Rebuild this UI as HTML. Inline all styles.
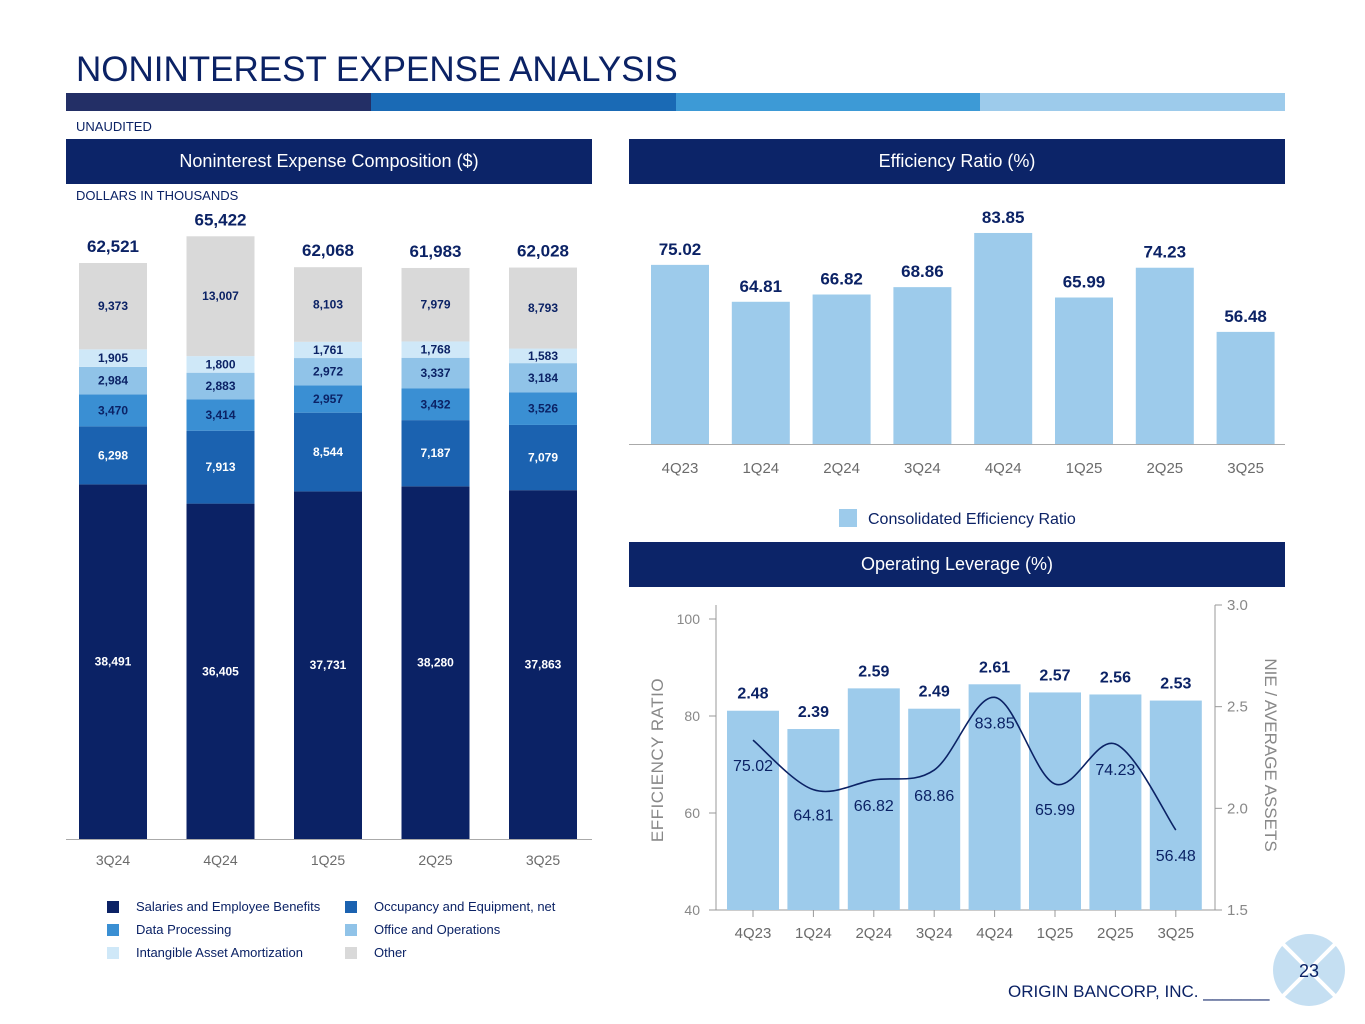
<!DOCTYPE html>
<html><head><meta charset="utf-8"><style>
body{margin:0;width:1365px;height:1024px;background:#fff;font-family:"Liberation Sans",Arial,sans-serif;position:relative;overflow:hidden}
.abs{position:absolute}
.hdr{position:absolute;background:#0c2468;color:#fff;font-size:18px;text-align:center;line-height:45px;height:45px}
svg{position:absolute;left:0;top:0}
</style></head><body>
<div class="abs" style="left:76px;top:50px;font-size:35px;color:#0b2265">NONINTEREST EXPENSE ANALYSIS</div>
<div class="abs" style="left:66px;top:93px;width:1219px;height:18px;display:flex">
<div style="flex:1;background:#232f66"></div><div style="flex:1;background:#1a6ab5"></div><div style="flex:1;background:#3d9ad6"></div><div style="flex:1;background:#9dcbeb"></div></div>
<div class="abs" style="left:76px;top:119px;font-size:13px;color:#0b2265">UNAUDITED</div>
<div class="hdr" style="left:66px;top:139px;width:526px">Noninterest Expense Composition ($)</div>
<div class="hdr" style="left:629px;top:139px;width:656px">Efficiency Ratio (%)</div>
<div class="hdr" style="left:629px;top:542px;width:656px">Operating Leverage (%)</div>
<div class="abs" style="left:76px;top:188px;font-size:13px;color:#0b2265">DOLLARS IN THOUSANDS</div>
<svg id="chart" width="1365" height="1024"></svg>
<div class="abs" style="left:1008px;top:982px;font-size:17px;color:#0b2265">ORIGIN BANCORP, INC. _______</div>
<script>
const stackCats=["3Q24","4Q24","1Q25","2Q25","3Q25"];
const salaries=[38491,36405,37731,38280,37863];
const occupancy=[6298,7913,8544,7187,7079];
const dataProc=[3470,3414,2957,3432,3526];
const office=[2984,2883,2972,3337,3184];
const intangible=[1905,1800,1761,1768,1583];
const other=[9373,13007,8103,7979,8793];
const totals=["62,521","65,422","62,068","61,983","62,028"];
const effCats=["4Q23","1Q24","2Q24","3Q24","4Q24","1Q25","2Q25","3Q25"];
const effValues=[75.02,64.81,66.82,68.86,83.85,65.99,74.23,56.48];
const nieValues=[2.48,2.39,2.59,2.49,2.61,2.57,2.56,2.53];
const leftTicks=[40,60,80,100];
const rightTicks=[1.5,2.0,2.5,3.0];

const svg=document.getElementById('chart');const NS="http://www.w3.org/2000/svg";
function el(t,a,txt){const e=document.createElementNS(NS,t);for(const k in a)e.setAttribute(k,a[k]);if(txt!==undefined)e.textContent=txt;svg.appendChild(e);return e;}
const fmt=v=>v.toLocaleString('en-US');

// stacked chart
const sBase=839,sK=576/62521;const sy=v=>sBase-v*sK;const sx=i=>79+i*107.5;
const series=[[salaries,"#0b2265","#fff","salaries"],[occupancy,"#1b62b0","#fff","occupancy"],[dataProc,"#3a8fd3","#0b2265","data-processing"],[office,"#90c3e8","#0b2265","office"],[intangible,"#cfe8f8","#0b2265","intangible"],[other,"#d9d9d9","#0b2265","other"]];
stackCats.forEach((c,i)=>{let cum=0;
 series.forEach(([arr,col,tc,nm])=>{const y0=sy(cum),y1=sy(cum+arr[i]);
  const r=el('rect',{x:sx(i),y:y1,width:68,height:y0-y1,fill:col});
  
  
  const t=el('text',{x:sx(i)+34,y:(y0+y1)/2+4,'text-anchor':'middle','font-size':12,'font-weight':'bold',fill:tc},fmt(arr[i]));
  
  
  cum+=arr[i];});
 const t=el('text',{x:sx(i)+34,y:sy(cum)-11,'text-anchor':'middle','font-size':17,'font-weight':'bold',fill:'#0b2265'},totals[i]);
 
 
 const l=el('text',{x:sx(i)+34,y:865,'text-anchor':'middle','font-size':14,fill:'#6b6b6b'},c);
 
 
});
el('line',{x1:66,x2:592,y1:839.5,y2:839.5,stroke:'#aaa'});
const legItems=[["Salaries and Employee Benefits","#0b2265",107,907],["Occupancy and Equipment, net","#1b62b0",345,907],["Data Processing","#3a8fd3",107,930],["Office and Operations","#90c3e8",345,930],["Intangible Asset Amortization","#cfe8f8",107,953],["Other","#d9d9d9",345,953]];
legItems.forEach(([n,c,x,y])=>{const r=el('rect',{x:x,y:y-6,width:12,height:12,fill:c});
 
 const t=el('text',{x:x+29,y:y+4,'font-size':13,fill:'#0b2265'},n);
 });

// efficiency ratio
const eK=3.614,eB=536;const ey=v=>eB-v*eK;const ex=i=>651+i*80.8;
effCats.forEach((c,i)=>{const r=el('rect',{x:ex(i),y:ey(effValues[i]),width:58,height:444-ey(effValues[i]),fill:'#9dcbeb'});
 
 const t=el('text',{x:ex(i)+29,y:ey(effValues[i])-10,'text-anchor':'middle','font-size':17,'font-weight':'bold',fill:'#0b2265'},effValues[i].toFixed(2));
 
 const l=el('text',{x:ex(i)+29,y:473,'text-anchor':'middle','font-size':15,fill:'#6b6b6b'},c);
 });
el('line',{x1:629,x2:1285,y1:444.5,y2:444.5,stroke:'#aaa'});
const lr=el('rect',{x:839,y:509,width:18,height:18,fill:'#9dcbeb'});
const lt=el('text',{x:868,y:524,'font-size':16,fill:'#0b2265'},'Consolidated Efficiency Ratio');

// operating leverage
const oL=v=>910-(v-40)*(291/60);const oR=v=>910-(v-1.5)*(305/1.5);const ox=i=>753+i*60.4;
el('line',{x1:716,x2:716,y1:605,y2:910,stroke:'#999'});
el('line',{x1:1215,x2:1215,y1:605,y2:910,stroke:'#999'});
el('line',{x1:716,x2:1215,y1:910,y2:910,stroke:'#999'});
leftTicks.forEach(v=>{el('line',{x1:709,x2:716,y1:oL(v),y2:oL(v),stroke:'#999'});
 const t=el('text',{x:700,y:oL(v)+5,'text-anchor':'end','font-size':14,fill:'#888'},v);});
rightTicks.forEach(v=>{el('line',{x1:1215,x2:1222,y1:oR(v),y2:oR(v),stroke:'#999'});
 const t=el('text',{x:1227,y:oR(v)+5,'font-size':15,fill:'#888'},v.toFixed(1));});
const yl=el('text',{x:663,y:760,'text-anchor':'middle','font-size':17,fill:'#888',transform:'rotate(-90 663 760)','letter-spacing':'0.5'},'EFFICIENCY RATIO');
const yr=el('text',{x:1265,y:755,'text-anchor':'middle','font-size':17,fill:'#888',transform:'rotate(90 1265 755)'},'NIE / AVERAGE ASSETS');
effCats.forEach((c,i)=>{const y=oR(nieValues[i]);
 const r=el('rect',{x:ox(i)-26,y:y,width:52,height:910-y,fill:'#9dcbeb'});
 const t=el('text',{x:ox(i),y:y-12,'text-anchor':'middle','font-size':16,'font-weight':'bold',fill:'#0b2265'},nieValues[i].toFixed(2));
 el('line',{x1:ox(i),x2:ox(i),y1:910,y2:917,stroke:'#999'});
 const l=el('text',{x:ox(i),y:938,'text-anchor':'middle','font-size':15,fill:'#6b6b6b'},c);});
const pts=effValues.map((v,i)=>[ox(i),oL(v)]);
let d=`M${pts[0][0]},${pts[0][1]}`;
for(let i=0;i<pts.length-1;i++){const p0=pts[i-1]||pts[i],p1=pts[i],p2=pts[i+1],p3=pts[i+2]||p2;
 d+=` C${p1[0]+(p2[0]-p0[0])/6},${p1[1]+(p2[1]-p0[1])/6} ${p2[0]-(p3[0]-p1[0])/6},${p2[1]-(p3[1]-p1[1])/6} ${p2[0]},${p2[1]}`;}
const ln=el('path',{d:d,fill:'none',stroke:'#0b2265','stroke-width':1.6});
effValues.forEach((v,i)=>{const t=el('text',{x:ox(i),y:oL(v)+31,'text-anchor':'middle','font-size':16,fill:'#0b2265'},v.toFixed(2));});

// page badge
el('circle',{cx:1309,cy:970,r:36,fill:'#c5dff2'});
el('line',{x1:1283,y1:944,x2:1335,y2:996,stroke:'#fff','stroke-width':4});
el('line',{x1:1335,y1:944,x2:1283,y2:996,stroke:'#fff','stroke-width':4});
const pn=el('text',{x:1309,y:977,'text-anchor':'middle','font-size':18,fill:'#0b2265'},'23');
</script>
</body></html>
